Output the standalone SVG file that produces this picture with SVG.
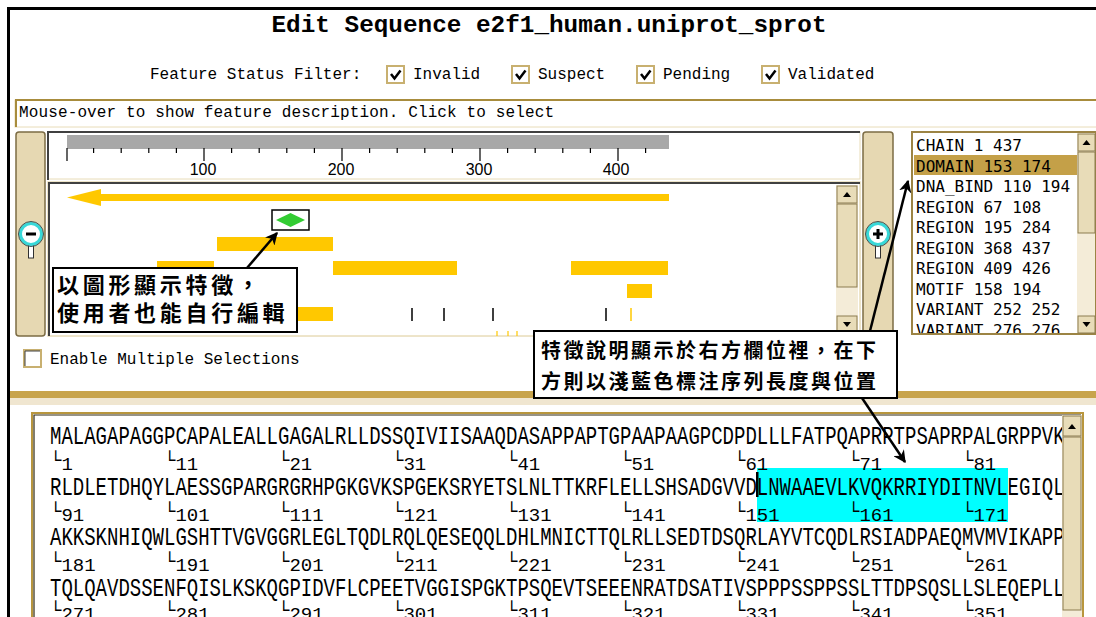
<svg xmlns="http://www.w3.org/2000/svg" width="1096" height="617" viewBox="0 0 1096 617">
<defs>
<style>
.mono{font-family:"Liberation Mono","DejaVu Sans Mono",monospace;font-size:16px;fill:#000}
.title{font-family:"Liberation Mono","DejaVu Sans Mono",monospace;font-size:24px;font-weight:bold;fill:#000}
.list{font-family:"DejaVu Sans Mono","Liberation Mono",monospace;font-size:16px;fill:#000}
.rl{font-family:"Liberation Sans",Arial,sans-serif;font-size:16px;fill:#000;text-anchor:middle}
.seq{font-family:"Liberation Mono","DejaVu Sans Mono",monospace;font-size:19px;fill:#000}
.num{font-family:"Liberation Mono","DejaVu Sans Mono",monospace;font-size:19px;fill:#000}
.cjk1{font-family:"Noto Sans CJK TC","Noto Sans CJK SC",sans-serif;font-weight:bold;font-size:22px;letter-spacing:3.7px;fill:#000}
.cjk2{font-family:"Noto Sans CJK TC","Noto Sans CJK SC",sans-serif;font-weight:bold;font-size:20px;letter-spacing:2.5px;fill:#000}
.cb{fill:#fff;stroke:#c8b070;stroke-width:2}
.chk{fill:none;stroke:#000;stroke-width:2.5}
.trk{fill:#ffc800}
.bar{fill:#e6d8b2;stroke:#7c6c44;stroke-width:1.5}
.btn{fill:#e8dcb8;stroke:#8c7c50;stroke-width:1}
.sbt{fill:#f4ecd8}
.tick{stroke:#000;stroke-width:1.2}
.conn{stroke:#000;stroke-width:2.5;fill:none;marker-end:url(#ah)}
.callout{fill:#fff;stroke:#000;stroke-width:2}
.ring{fill:#fff;stroke:#38d8d8;stroke-width:3}
.ringo{fill:none;stroke:#405050;stroke-width:1}
</style>
<marker id="ah" viewBox="0 0 10 10" refX="9" refY="5" markerWidth="5" markerHeight="5" orient="auto"><path d="M0,0 L10,5 L0,10 L3,5 Z" fill="#000"/></marker>
<clipPath id="listclip"><rect x="913" y="133" width="164" height="200"/></clipPath>
</defs>
<rect x="0" y="0" width="1096" height="617" fill="#fff"/>

<g id="frame">
<rect x="7" y="7" width="1092" height="3" fill="#000"/>
<rect x="7" y="7" width="3" height="612" fill="#000"/>
</g>

<g id="title">
<text class="title" x="549" y="32" text-anchor="middle" textLength="555" lengthAdjust="spacingAndGlyphs">Edit Sequence e2f1_human.uniprot_sprot</text>
</g>

<g id="filter">
<text class="mono" x="150" y="79">Feature Status Filter:</text>
<rect class="cb" x="387" y="66" width="17" height="17"/><path class="chk" d="M391,74 l3.5,4.5 l6,-8"/>
<text class="mono" x="413" y="79">Invalid</text>
<rect class="cb" x="512" y="66" width="17" height="17"/><path class="chk" d="M516,74 l3.5,4.5 l6,-8"/>
<text class="mono" x="538" y="79">Suspect</text>
<rect class="cb" x="637" y="66" width="17" height="17"/><path class="chk" d="M641,74 l3.5,4.5 l6,-8"/>
<text class="mono" x="663" y="79">Pending</text>
<rect class="cb" x="762" y="66" width="17" height="17"/><path class="chk" d="M766,74 l3.5,4.5 l6,-8"/>
<text class="mono" x="788" y="79">Validated</text>
</g>

<g id="description">
<rect x="15" y="100" width="1090" height="27" fill="#fff" stroke="#e8dcb8" stroke-width="1"/>
<rect x="15" y="99" width="1081" height="2" fill="#a88c3c"/>
<rect x="15" y="99" width="2" height="28" fill="#a88c3c"/>
<text class="mono" x="19" y="117" textLength="535">Mouse-over to show feature description. Click to select</text>
</g>

<g id="zoom-out">
<rect class="bar" x="16" y="132" width="29" height="204" rx="3"/>
<rect x="28.5" y="244" width="5" height="14" fill="#fff" stroke="#303030" stroke-width="1"/>
<circle class="ring" cx="31" cy="234" r="10.5"/>
<circle class="ringo" cx="31" cy="234" r="12.5"/>
<rect x="26" y="232.5" width="10" height="3" fill="#000"/>
</g>

<g id="ruler">
<rect x="48" y="132" width="812" height="47" fill="#fff" stroke="#e8dcb8" stroke-width="1"/>
<path d="M48,180 V132 H860" fill="none" stroke="#404040" stroke-width="2"/>
<rect x="67" y="135" width="602" height="14" fill="#a8a8a8"/>
<g class="tick">
<path d="M67,148 V161 M204,148 V161 M342,148 V161 M480,148 V161 M618,148 V161"/>
<path d="M93.6,148 V153 M121.2,148 V153 M148.8,148 V153 M176.4,148 V153 M231.6,148 V153 M259.2,148 V153 M286.8,148 V153 M314.4,148 V153 M369.6,148 V153 M397.2,148 V153 M424.8,148 V153 M452.4,148 V153 M507.6,148 V153 M535.2,148 V153 M562.8,148 V153 M590.4,148 V153 M645.6,148 V153"/>
</g>
<text class="rl" x="203" y="175">100</text>
<text class="rl" x="341" y="175">200</text>
<text class="rl" x="479" y="175">300</text>
<text class="rl" x="616" y="175">400</text>
</g>

<g id="tracks">
<rect x="48" y="182" width="812" height="154" fill="#fff" stroke="#e8dcb8" stroke-width="1.5"/>
<path d="M49,336 V183 H860" fill="none" stroke="#404040" stroke-width="2"/>
<rect class="trk" x="99" y="194" width="570" height="7"/>
<polygon class="trk" points="67,197.5 101,189 101,206"/>
<rect x="272" y="210" width="37" height="20" fill="#fff" stroke="#000" stroke-width="1.5"/>
<polygon points="276,220 290.5,213 305,220 290.5,227" fill="#33cc33"/>
<rect class="trk" x="217" y="237" width="116" height="14"/>
<rect class="trk" x="157" y="261" width="57" height="14"/>
<rect class="trk" x="333" y="261" width="124" height="14"/>
<rect class="trk" x="571" y="261" width="97" height="14"/>
<rect class="trk" x="627" y="284" width="25" height="14"/>
<rect class="trk" x="283" y="307" width="50" height="14"/>
<path d="M412,308 V321 M444,308 V321 M493,308 V321 M606,308 V321" stroke="#000" stroke-width="1.5"/>
<path d="M631,308 V321" stroke="#ffc800" stroke-width="1.5"/>
<path d="M497,331 V336 M508,331 V336 M517,331 V336" stroke="#ffc800" stroke-width="1.2"/>
<rect class="sbt" x="836" y="185" width="22" height="148"/>
<rect class="btn" x="837" y="186" width="20" height="17"/>
<polygon points="843,197 851,197 847,192" fill="#000"/>
<rect class="btn" x="837" y="204" width="20" height="83"/>
<rect class="btn" x="837" y="316" width="20" height="17"/>
<polygon points="843,322 851,322 847,327" fill="#000"/>
</g>

<g id="zoom-in">
<rect class="bar" x="863" y="132" width="30" height="205" rx="3"/>
<rect x="875.5" y="244" width="5" height="14" fill="#fff" stroke="#303030" stroke-width="1"/>
<circle class="ring" cx="878" cy="234" r="10.5"/>
<circle class="ringo" cx="878" cy="234" r="12.5"/>
<rect x="873" y="232.5" width="10" height="3" fill="#000"/>
<rect x="876.5" y="229" width="3" height="10" fill="#000"/>
</g>

<g id="feature-list">
<rect x="912" y="132" width="183" height="202" fill="#fff" stroke="#9c8444" stroke-width="2"/>
<rect x="914" y="155" width="163" height="20" fill="#c4a048"/>
<g clip-path="url(#listclip)">
<text class="list" x="916" y="151">CHAIN 1 437</text>
<text class="list" x="916" y="171.5">DOMAIN 153 174</text>
<text class="list" x="916" y="192">DNA_BIND 110 194</text>
<text class="list" x="916" y="212.5">REGION 67 108</text>
<text class="list" x="916" y="233">REGION 195 284</text>
<text class="list" x="916" y="253.5">REGION 368 437</text>
<text class="list" x="916" y="274">REGION 409 426</text>
<text class="list" x="916" y="294.5">MOTIF 158 194</text>
<text class="list" x="916" y="315">VARIANT 252 252</text>
<text class="list" x="916" y="335.5">VARIANT 276 276</text>
</g>
<rect class="sbt" x="1077" y="133" width="18" height="200"/>
<rect class="btn" x="1078" y="134" width="17" height="17"/>
<polygon points="1082.5,145 1090.5,145 1086.5,140" fill="#000"/>
<rect class="btn" x="1078" y="152" width="17" height="81"/>
<rect class="btn" x="1078" y="316" width="17" height="17"/>
<polygon points="1082.5,322 1090.5,322 1086.5,327" fill="#000"/>
</g>

<g id="multi-select">
<rect x="24" y="350" width="17" height="17" fill="#fff" stroke="#c8b070" stroke-width="2"/>
<path d="M25,366 V351 H40" fill="none" stroke="#404040" stroke-width="1"/>
<text class="mono" x="50" y="364">Enable Multiple Selections</text>
</g>

<g id="divider">
<rect x="10" y="391" width="1086" height="7" fill="#c8a44c"/>
<rect x="10" y="398" width="1086" height="7" fill="#f0e6d0"/>
</g>

<g id="sequence-panel">
<rect x="32" y="413" width="1051" height="210" fill="#fff" stroke="#b8963e" stroke-width="2"/>
<path d="M34,620 V415 H1081" fill="none" stroke="#302810" stroke-width="1.2"/>
<rect x="757" y="468" width="251" height="54" fill="#00ffff"/>
<rect x="756" y="472" width="2.5" height="25" fill="#000"/>
<text class="seq" transform="translate(50 444) scale(1 1.4)" textLength="1026" lengthAdjust="spacingAndGlyphs">MALAGAPAGGPCAPALEALLGAGALRLLDSSQIVIISAAQDASAPPAPTGPAAPAAGPCDPDLLLFATPQAPRPTPSAPRPALGRPPVKR</text>
<text class="seq" transform="translate(50 494.5) scale(1 1.4)" textLength="1026" lengthAdjust="spacingAndGlyphs">RLDLETDHQYLAESSGPARGRGRHPGKGVKSPGEKSRYETSLNLTTKRFLELLSHSADGVVDLNWAAEVLKVQKRRIYDITNVLEGIQLI</text>
<text class="seq" transform="translate(50 545) scale(1 1.4)" textLength="1026" lengthAdjust="spacingAndGlyphs">AKKSKNHIQWLGSHTTVGVGGRLEGLTQDLRQLQESEQQLDHLMNICTTQLRLLSEDTDSQRLAYVTCQDLRSIADPAEQMVMVIKAPPE</text>
<text class="seq" transform="translate(50 595.5) scale(1 1.4)" textLength="1026" lengthAdjust="spacingAndGlyphs">TQLQAVDSSENFQISLKSKQGPIDVFLCPEETVGGISPGKTPSQEVTSEEENRATDSATIVSPPPSSPPSSLTTDPSQSLLSLEQEPLLS</text>
<text class="num" x="50" y="466">└<tspan dy="4">1</tspan></text><text class="num" x="164" y="466">└<tspan dy="4">11</tspan></text><text class="num" x="278" y="466">└<tspan dy="4">21</tspan></text><text class="num" x="392" y="466">└<tspan dy="4">31</tspan></text><text class="num" x="506" y="466">└<tspan dy="4">41</tspan></text><text class="num" x="620" y="466">└<tspan dy="4">51</tspan></text><text class="num" x="734" y="466">└<tspan dy="4">61</tspan></text><text class="num" x="848" y="466">└<tspan dy="4">71</tspan></text><text class="num" x="962" y="466">└<tspan dy="4">81</tspan></text>
<text class="num" x="50" y="516.5">└<tspan dy="4">91</tspan></text><text class="num" x="164" y="516.5">└<tspan dy="4">101</tspan></text><text class="num" x="278" y="516.5">└<tspan dy="4">111</tspan></text><text class="num" x="392" y="516.5">└<tspan dy="4">121</tspan></text><text class="num" x="506" y="516.5">└<tspan dy="4">131</tspan></text><text class="num" x="620" y="516.5">└<tspan dy="4">141</tspan></text><text class="num" x="734" y="516.5">└<tspan dy="4">151</tspan></text><text class="num" x="848" y="516.5">└<tspan dy="4">161</tspan></text><text class="num" x="962" y="516.5">└<tspan dy="4">171</tspan></text>
<text class="num" x="50" y="567">└<tspan dy="4">181</tspan></text><text class="num" x="164" y="567">└<tspan dy="4">191</tspan></text><text class="num" x="278" y="567">└<tspan dy="4">201</tspan></text><text class="num" x="392" y="567">└<tspan dy="4">211</tspan></text><text class="num" x="506" y="567">└<tspan dy="4">221</tspan></text><text class="num" x="620" y="567">└<tspan dy="4">231</tspan></text><text class="num" x="734" y="567">└<tspan dy="4">241</tspan></text><text class="num" x="848" y="567">└<tspan dy="4">251</tspan></text><text class="num" x="962" y="567">└<tspan dy="4">261</tspan></text>
<text class="num" x="50" y="616">└<tspan dy="4">271</tspan></text><text class="num" x="164" y="616">└<tspan dy="4">281</tspan></text><text class="num" x="278" y="616">└<tspan dy="4">291</tspan></text><text class="num" x="392" y="616">└<tspan dy="4">301</tspan></text><text class="num" x="506" y="616">└<tspan dy="4">311</tspan></text><text class="num" x="620" y="616">└<tspan dy="4">321</tspan></text><text class="num" x="734" y="616">└<tspan dy="4">331</tspan></text><text class="num" x="848" y="616">└<tspan dy="4">341</tspan></text><text class="num" x="962" y="616">└<tspan dy="4">351</tspan></text>
<rect class="sbt" x="1062" y="415" width="20" height="205"/>
<rect class="btn" x="1063" y="416" width="18" height="20"/>
<polygon points="1068,429 1076,429 1072,424" fill="#000"/>
<rect class="btn" x="1063" y="437" width="18" height="173" stroke-width="1.5"/>
</g>

<g id="callout-graphics">
<rect class="callout" x="53" y="268" width="244" height="64"/>
<text class="cjk1" x="57" y="293">以圖形顯示特徵，</text>
<text class="cjk1" x="57" y="321">使用者也能自行編輯</text>
</g>

<g id="callout-description">
<rect class="callout" x="534" y="331" width="363" height="67"/>
<text class="cjk2" x="541" y="358">特徵說明顯示於右方欄位裡，在下</text>
<text class="cjk2" x="541" y="389">方則以淺藍色標注序列長度與位置</text>
</g>

<g id="connectors">
<path class="conn" d="M247,268 L277,233"/>
<path class="conn" d="M870,331 L908,181"/>
<path class="conn" d="M862,398 L905,462"/>
</g>
</svg>
